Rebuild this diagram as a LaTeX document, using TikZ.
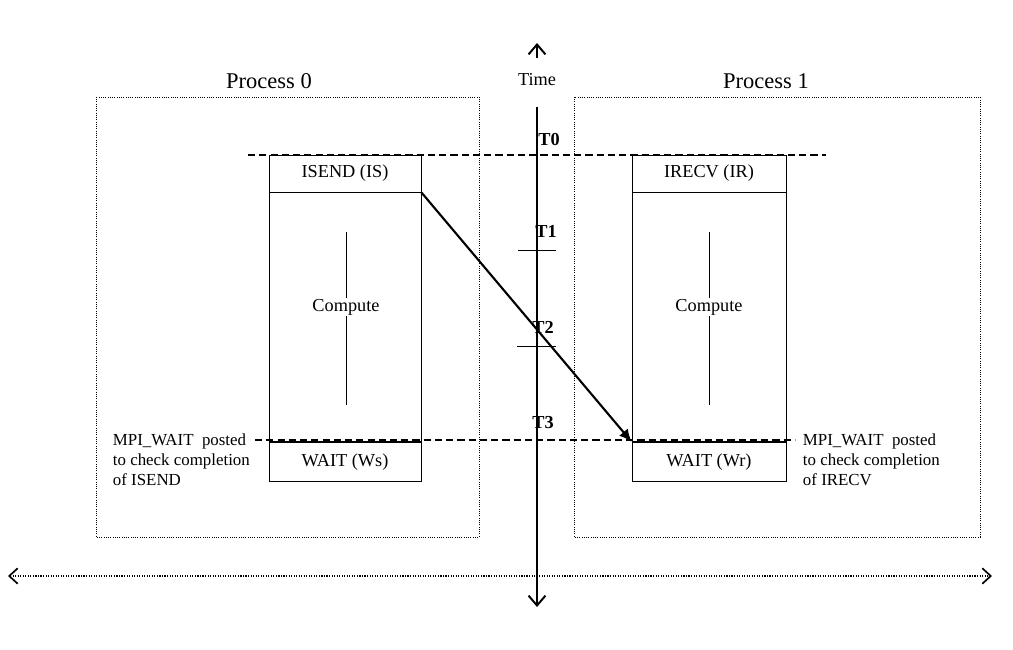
\documentclass[tikz,border=0pt]{standalone}
\usepackage{fontspec}
\setmainfont{Liberation Serif}
\usetikzlibrary{arrows.meta}

\begin{document}
\begin{tikzpicture}[x=0.025cm,y=-0.025cm,
  procbox/.style={draw,densely dotted,line width=0.6pt},
  cell/.style={draw,inner sep=0pt,font=\fontsize{13}{15}\selectfont},
  tmark/.style={draw,line width=1.5pt,dash pattern=on 5pt off 3pt},
  tlabel/.style={font=\fontsize{13}{15}\selectfont\bfseries},
  waitnote/.style={align=left,anchor=west,font=\fontsize{12}{14.2}\selectfont}]
\useasboundingbox (0,0) rectangle (1013,650);

\draw[procbox] (96,97) rectangle (479,537);
\draw[procbox] (574,97) rectangle (980,537);
\node[font=\fontsize{16}{18}\selectfont] (proc0) at (269,81) {Process 0};
\node[font=\fontsize{16}{18}\selectfont] (proc1) at (766,81) {Process 1};

\draw[{Straight Barb[length=6pt,width=11pt,line width=1.2pt]}-{Straight Barb[length=6pt,width=11pt,line width=1.2pt]},densely dotted,line width=0.8pt] (8,576) -- (992,576);

\node[font=\fontsize{13}{15}\selectfont] (time) at (537,80) {Time};
\coordinate (ttop) at (537,43);
\coordinate (tstart) at (537,107);
\coordinate (tend) at (537,607);
\draw[-{Straight Barb[length=7pt,width=12pt,line width=1.4pt]},line width=0.8pt] (537,58) -- (ttop);
\draw[-{Straight Barb[length=7pt,width=12pt,line width=1.4pt]},line width=0.8pt] (tstart) -- (tend);

\draw[tmark] (248,155) -- (826,155);
\draw[tmark] (255,440) -- (795,440);

\node[cell,minimum width=3.8cm,minimum height=0.925cm] (is) at (345,173.5) {ISEND (IS)};
\node[cell,minimum width=3.8cm,minimum height=6.225cm,anchor=north] (cs) at (is.south) {};
\node[cell,minimum width=3.8cm,minimum height=0.975cm,anchor=north] (ws) at (cs.south) {WAIT (Ws)};
\draw (346,232) -- (346,405);
\node[fill=white,inner sep=1pt,font=\fontsize{13}{15}\selectfont] at (346,307) {Compute};

\node[cell,minimum width=3.85cm,minimum height=0.925cm] (ir) at (709,173.5) {IRECV (IR)};
\node[cell,minimum width=3.85cm,minimum height=6.225cm,anchor=north] (cr) at (ir.south) {};
\node[cell,minimum width=3.85cm,minimum height=0.975cm,anchor=north] (wr) at (cr.south) {WAIT (Wr)};
\draw (709,232) -- (709,405);
\node[fill=white,inner sep=1pt,font=\fontsize{13}{15}\selectfont] at (709,307) {Compute};

\node[tlabel] (t0) at (549,140) {T0};
\node[tlabel] (t1) at (546,231) {T1};
\node[tlabel] (t2) at (543,327) {T2};
\node[tlabel] (t3) at (543,423) {T3};
\draw (518,250) -- (556,250);
\draw (517,346) -- (556,346);

\draw[-{Latex[length=9pt,width=8pt]},line width=1.5pt] (is.south east) -- (wr.north west);

\node[waitnote] (ws note) at (108,460) {MPI\_WAIT\enspace posted\\to check completion\\of ISEND};
\node[waitnote] (wr note) at (798,460) {MPI\_WAIT\enspace posted\\to check completion\\of IRECV};
\end{tikzpicture}
\end{document}
